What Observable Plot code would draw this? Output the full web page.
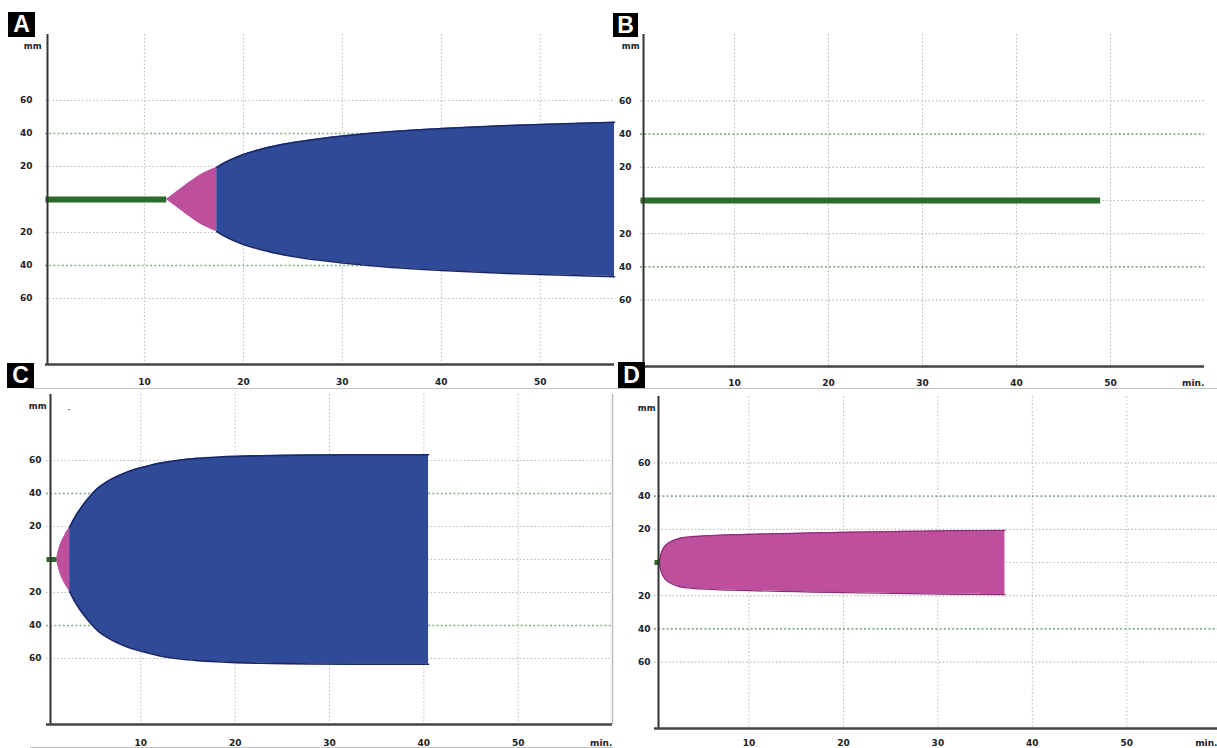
<!DOCTYPE html>
<html><head><meta charset="utf-8">
<script src="https://cdn.jsdelivr.net/npm/d3@7"></script>
<script src="https://cdn.jsdelivr.net/npm/@observablehq/plot@0.6"></script>
<style>
html,body{margin:0;padding:0;background:#fff;}
body{width:1217px;height:748px;overflow:hidden;position:relative;font-family:"DejaVu Sans",sans-serif;}
.tag{position:absolute;background:#000;color:#fff;font:bold 23px "Liberation Sans",Arial,sans-serif;text-align:center;}
.hl{position:absolute;height:1px;background:#c2c2c2;}
</style></head><body>
<script>
// ---- shared axis data ----
const xTicks = [10, 20, 30, 40, 50];
const yTicks = [60, 40, 20, -20, -40, -60];
const yTickLabels = ["60", "40", "20", "20", "40", "60"];
const grayGridY = [60, 20, 0, -20, -60];
const greenGridY = [40, -40];
const panelLetters = ["A", "B", "C", "D"];

// ---- Panel A (min, half-amplitude mm) ----
const aGreen = [0, 12.2];
const aPinkTime = [12.2, 13, 14, 14.8, 15.8, 17.3];
const aPinkAmp  = [0, 3.5, 8, 11.5, 15.5, 19.5];
const aBlueTime = [17.3, 18, 19, 20, 21.5, 23, 25, 27.5, 30, 35, 40, 45, 50, 57.5];
const aBlueAmp  = [19.5, 22, 24.8, 27.2, 30, 32.2, 34.5, 36.7, 38.5, 41.2, 43, 44.4, 45.5, 46.8];

// ---- Panel B ----
const bGreen = [0, 48.9];

// ---- Panel C ----
const cGreen = [0, 1.06];
const cPinkTime = [1.06, 1.3, 1.6, 2.0, 2.45];
const cPinkAmp  = [0, 6, 11, 15.5, 19.5];
const cBlueTime = [2.45, 3, 3.5, 4, 4.8, 5.5, 6.5, 7.5, 9, 10.5, 12, 14, 16, 18, 20, 24, 28, 34, 40.5];
const cBlueAmp  = [19.5, 25.5, 30, 34, 39.5, 43.5, 47.5, 50.5, 54, 56.3, 58.4, 60.2, 61.3, 62, 62.5, 63, 63.3, 63.5, 63.5];

// ---- Panel D ----
const dGreen = [0, 0.53];
const dPinkTime = [0.53, 0.65, 0.85, 1.1, 1.4, 1.8, 2.3, 3, 4, 5.5, 7.5, 10, 15, 20, 27, 32, 37.1];
const dPinkAmp  = [0, 4.5, 7.5, 9.8, 11.5, 12.8, 13.9, 15, 15.6, 16.1, 16.6, 17, 17.6, 18.2, 18.8, 19.2, 19.3];

const BLUE = "#2f4a97", NAVY = "#1b2868", PINK = "#be4f9c", PINKDARK = "#8e2c7c", GREEN = "#2b6b2b";
const FONT = "DejaVu Sans";
const CURVE = "catmull-rom";

const toPts = (ts, as) => ts.map((t, i) => ({t, a: as[i]}));

function makePanel(cfg) {
  const marks = [
    Plot.ruleX(xTicks, {stroke: "#b9b9b9", strokeDasharray: "1.5,2.2", strokeWidth: 1}),
    Plot.ruleY(grayGridY, {stroke: "#b9b9b9", strokeDasharray: "1.5,2.2", strokeWidth: 1.2}),
    Plot.ruleY(greenGridY, {stroke: "#86ad86", strokeDasharray: "2,2.2", strokeWidth: 1.7})
  ];
  if (cfg.rightBorder) marks.push(Plot.ruleX([cfg.xDomain[1]], {stroke: "#bdbdbd", strokeWidth: 1.5}));
  if (cfg.blue) {
    const blue = toPts(cfg.blue[0], cfg.blue[1]);
    marks.push(
      Plot.areaY(blue, {x: "t", y1: d => -d.a, y2: "a", fill: BLUE, curve: CURVE}),
      Plot.line(blue, {x: "t", y: "a", stroke: NAVY, strokeWidth: 1.6, curve: CURVE}),
      Plot.line(blue, {x: "t", y: d => -d.a, stroke: NAVY, strokeWidth: 1.6, curve: CURVE})
    );
  }
  if (cfg.pink) {
    const pink = toPts(cfg.pink[0], cfg.pink[1]);
    marks.push(Plot.areaY(pink, {x: "t", y1: d => -d.a, y2: "a", fill: PINK, curve: CURVE}));
    if (cfg.pinkOutline) {
      marks.push(
        Plot.line(pink, {x: "t", y: "a", stroke: PINKDARK, strokeWidth: 1.2, curve: CURVE}),
        Plot.line(pink, {x: "t", y: d => -d.a, stroke: PINKDARK, strokeWidth: 1.2, curve: CURVE})
      );
    }
  }
  const green = cfg.green.map(t => ({t, a: 0}));
  marks.push(Plot.line(green, {x: "t", y: "a", stroke: GREEN, strokeWidth: cfg.greenWidth, strokeLinecap: "butt"}));
  // axes
  marks.push(
    Plot.ruleX([0], {stroke: "#333", strokeWidth: 2, dx: cfg.axisDx}),
    Plot.ruleY([-100], {stroke: "#444", strokeWidth: 2.5})
  );
  const txt = {fontFamily: FONT, fontWeight: "bold", fontSize: 9, fill: "#222"};
  marks.push(
    Plot.text(yTicks, {x: 0, y: d => d, text: (d, i) => yTickLabels[i], textAnchor: "end", dx: cfg.yLabelDx, ...txt}),
    Plot.text(["mm"], {x: 0, y: 93, text: d => d, textAnchor: "end", dx: cfg.mmDx, ...txt, fontSize: 8.5}),
    Plot.text(xTicks, {x: d => d, y: -100, text: d => String(d), dy: cfg.xLabelDy, ...txt})
  );
  if (cfg.minX != null) {
    marks.push(Plot.text(["min."], {x: cfg.minX, y: -100, text: d => d, dy: cfg.xLabelDy, textAnchor: cfg.minAnchor || "middle", ...txt}));
  }
  if (cfg.extra) marks.push(...cfg.extra);
  const svg = Plot.plot({
    width: cfg.width, height: cfg.height,
    marginLeft: cfg.ml, marginRight: cfg.mr, marginTop: cfg.mt, marginBottom: cfg.mb,
    x: {domain: cfg.xDomain, axis: null},
    y: {domain: [-100, 100], axis: null},
    style: {background: "transparent", overflow: "visible"},
    marks
  });
  svg.style.position = "absolute";
  svg.style.left = cfg.left + "px";
  svg.style.top = cfg.top + "px";
  document.body.appendChild(svg);
}

makePanel({left: 0, top: 0, width: 614, height: 390, ml: 45, mr: 0, mt: 34, mb: 26,
  xDomain: [0, 57.5], axisDx: 2, yLabelDx: -13, mmDx: -4, xLabelDy: 18,
  green: aGreen, greenWidth: 6, pink: [aPinkTime, aPinkAmp], blue: [aBlueTime, aBlueAmp]});

makePanel({left: 600, top: 0, width: 617, height: 390, ml: 40, mr: 13, mt: 34, mb: 24,
  xDomain: [0, 60], axisDx: 3, yLabelDx: -9, mmDx: -1, xLabelDy: 17, minX: 58.8,
  green: bGreen, greenWidth: 6});

makePanel({left: 0, top: 360, width: 613, height: 388, ml: 46, mr: 1, mt: 34, mb: 24,
  xDomain: [0, 60], axisDx: 4, yLabelDx: -5, mmDx: 0, xLabelDy: 19, minX: 58.8, rightBorder: true,
  green: cGreen, greenWidth: 5, pink: [cPinkTime, cPinkAmp], blue: [cBlueTime, cBlueAmp],
  extra: [Plot.text(["-"], {x: 2.4, y: 91, text: d => d, fontSize: 8, fill: "#555", fontFamily: FONT})]});

makePanel({left: 600, top: 360, width: 617, height: 388, ml: 54, mr: 0, mt: 36, mb: 20,
  xDomain: [0, 59.6], axisDx: 4, yLabelDx: -4, mmDx: 1, xLabelDy: 15, minX: 59.6, minAnchor: "end",
  green: dGreen, greenWidth: 5, pink: [dPinkTime, dPinkAmp], pinkOutline: true});

// thin separator lines
[[30, 388, 1187], [30, 747, 583]].forEach(([l, t, w]) => {
  const d = document.createElement("div");
  d.className = "hl"; d.style.left = l + "px"; d.style.top = t + "px"; d.style.width = w + "px";
  document.body.appendChild(d);
});

// panel letters
const tagPos = [[8, 12, 27, 25], [613, 13, 25, 24], [7, 363, 27, 25], [618, 362, 27, 26]];
panelLetters.forEach((L, i) => {
  const [l, t, w, h] = tagPos[i];
  const d = document.createElement("div");
  d.className = "tag";
  d.textContent = L;
  Object.assign(d.style, {left: l + "px", top: t + "px", width: w + "px", height: h + "px", lineHeight: h + "px"});
  document.body.appendChild(d);
});
</script>
</body></html>
